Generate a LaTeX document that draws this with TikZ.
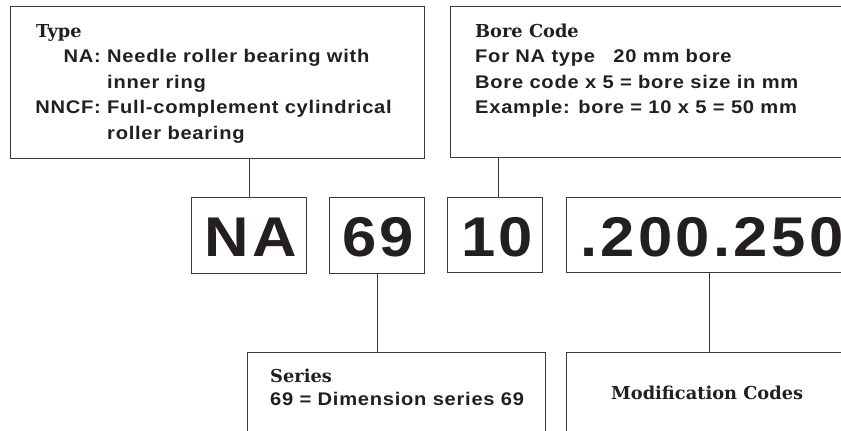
\documentclass[tikz,border=0pt]{standalone}
\usepackage{fontspec}
\setmainfont{Liberation Sans}
\newfontfamily\headfont{DejaVu Serif}
\newfontfamily\labelfont[LetterSpace=4,FakeStretch=1.1]{Liberation Sans}
\newfontfamily\bigfont[LetterSpace=6,FakeStretch=1.1]{Liberation Sans}
\usetikzlibrary{calc}
\definecolor{ink}{HTML}{231F20}
\definecolor{rulec}{HTML}{3A3A3A}
\tikzset{
  box/.style={draw=rulec, line width=1.1pt, inner sep=0pt, anchor=north west},
  conn/.style={draw=rulec, line width=1.1pt},
  head/.style={font=\headfont\bfseries\fontsize{17.8}{20}\selectfont, text=ink, anchor=base west, inner sep=0pt},
  body/.style={font=\labelfont\bfseries\fontsize{18.3}{20}\selectfont, text=ink, anchor=base west, inner sep=0pt},
  big/.style={font=\bigfont\bfseries\fontsize{56}{60}\selectfont, text=ink, anchor=base, inner sep=0pt}
}
\begin{document}
\begin{tikzpicture}[x=1pt,y=-1pt]
\useasboundingbox (0,0) rectangle (841,431);
\clip (0,0) rectangle (841,431);
% boxes
\node[box, minimum width=414pt, minimum height=152pt] (typebox) at (10,6) {};
\node[box, minimum width=400pt, minimum height=151pt] (borebox) at (450,6) {};
\node[box, minimum width=115pt, minimum height=76pt] (nabox) at (191,197) {};
\node[box, minimum width=95pt, minimum height=76pt] (serbox) at (329,197) {};
\node[box, minimum width=95pt, minimum height=75pt] (tenbox) at (447,197) {};
\node[box, minimum width=290pt, minimum height=75pt] (codebox) at (566,197) {};
\node[box, minimum width=298pt, minimum height=100pt] (seriesbox) at (247,352) {};
\node[box, minimum width=290pt, minimum height=100pt] (modbox) at (566,352) {};
% connectors
\coordinate (tenin) at ($(tenbox.north)+(3.5,0)$);
\coordinate (codeout) at ($(codebox.south west)+(143.5,0)$);
\draw[conn] (nabox.north) -- (nabox.north |- typebox.south);
\draw[conn] (tenin) -- (tenin |- borebox.south);
\draw[conn] (serbox.south) -- (serbox.south |- seriesbox.north);
\draw[conn] (codeout) -- (codeout |- modbox.north);
% type box text
\node[head] (typet) at (36,37) {Type};
\node[body, anchor=base east] (lna) at (101,62.5) {NA:};
\node[body] (dna) at (107,62.5) {Needle roller bearing with};
\node[body] (dna2) at (107,88) {inner ring};
\node[body, anchor=base east] (lnn) at (101,113.5) {NNCF:};
\node[body] (dnn) at (107,113.5) {Full-complement cylindrical};
\node[body] (dnn2) at (107,139) {roller bearing};
% bore box text
\node[head] (boret) at (475,37) {Bore Code};
\node[body] (b1) at (475,62.5) {For NA type\hspace{12pt} 20 mm bore};
\node[body] (b2) at (475,88) {Bore code x 5 = bore size in mm};
\node[body] (b3) at (475,113.5) {Example: bore = 10 x 5 = 50 mm};
% big code
\node[big] (tna) at (251,256) {NA};
\node[big] (t69) at (378,256) {69};
\node[big] (t10) at (497,256) {10};
\node[big, anchor=base west] (tcode) at (580,256) {.200.250};
% lower boxes text
\node[head] (sert) at (270,382) {Series};
\node[body] (ser1) at (270,405) {69 = Dimension series 69};
\node[head] (modt) at (611,399) {Modification Codes};
\end{tikzpicture}
\end{document}
